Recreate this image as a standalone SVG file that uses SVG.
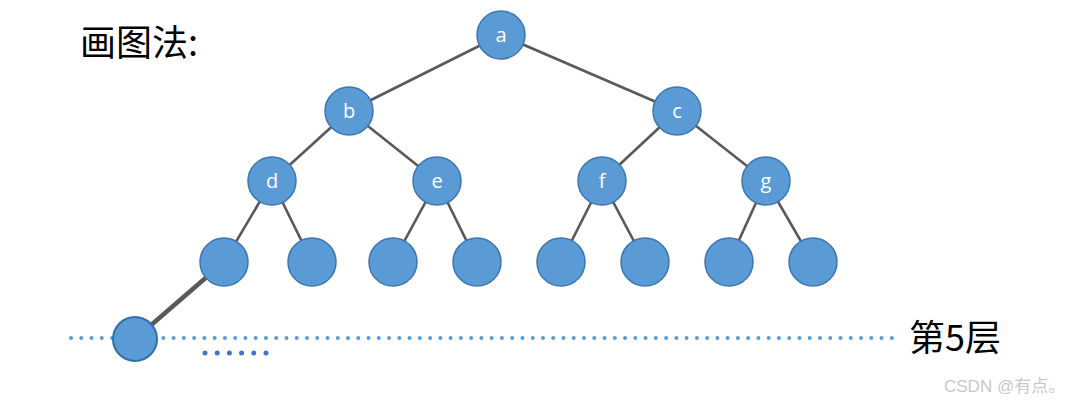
<svg xmlns="http://www.w3.org/2000/svg" width="1087" height="402" viewBox="0 0 1087 402">
<style>
.n{fill:#5b9bd5;stroke:#3f76b0;stroke-width:1.5}
.l{fill:#fff;font-family:"Open Sans","Liberation Sans",sans-serif;font-size:20px;text-anchor:middle}
.e{stroke:#595959;stroke-width:2.6;fill:none}
.t{font-family:"Noto Sans CJK SC","Liberation Sans",sans-serif;fill:#000}
</style>
<rect width="1087" height="402" fill="#fff"/>
<g id="connectors">
<line class="e" x1="501" y1="35" x2="349" y2="111"/>
<line class="e" x1="501" y1="35" x2="677" y2="111"/>
<line class="e" x1="349" y1="111" x2="272" y2="181"/>
<line class="e" x1="349" y1="111" x2="437" y2="181"/>
<line class="e" x1="677" y1="111" x2="602" y2="181"/>
<line class="e" x1="677" y1="111" x2="766" y2="181"/>
<line class="e" x1="272" y1="181" x2="224" y2="262"/>
<line class="e" x1="272" y1="181" x2="312" y2="262"/>
<line class="e" x1="437" y1="181" x2="393" y2="262"/>
<line class="e" x1="437" y1="181" x2="477" y2="262"/>
<line class="e" x1="602" y1="181" x2="561" y2="262"/>
<line class="e" x1="602" y1="181" x2="645" y2="262"/>
<line class="e" x1="766" y1="181" x2="729" y2="262"/>
<line class="e" x1="766" y1="181" x2="813" y2="262"/>
<line class="e" style="stroke-width:4.5" x1="224" y1="262" x2="135" y2="339"/>
</g>
<g id="level5-line">
<line x1="71" y1="338" x2="893" y2="338" stroke="#5b9bd5" stroke-width="4" stroke-linecap="round" stroke-dasharray="0 10.26"/>
<line x1="205" y1="353" x2="268" y2="353" stroke="#4472c4" stroke-width="5" stroke-linecap="round" stroke-dasharray="0 12.2"/>
</g>
<g id="node-a"><circle class="n" cx="501" cy="35" r="24"/><text class="l" x="501" y="42">a</text></g>
<g id="node-b"><circle class="n" cx="349" cy="111" r="24"/><text class="l" x="349" y="118">b</text></g>
<g id="node-c"><circle class="n" cx="677" cy="111" r="24"/><text class="l" x="677" y="118">c</text></g>
<g id="node-d"><circle class="n" cx="272" cy="181" r="24"/><text class="l" x="272" y="188">d</text></g>
<g id="node-e"><circle class="n" cx="437" cy="181" r="24"/><text class="l" x="437" y="188">e</text></g>
<g id="node-f"><circle class="n" cx="602" cy="181" r="24"/><text class="l" x="602" y="188">f</text></g>
<g id="node-g"><circle class="n" cx="766" cy="181" r="24"/><text class="l" x="766" y="188">g</text></g>
<g id="leaf-1"><circle class="n" cx="224" cy="262" r="24"/></g>
<g id="leaf-2"><circle class="n" cx="312" cy="262" r="24"/></g>
<g id="leaf-3"><circle class="n" cx="393" cy="262" r="24"/></g>
<g id="leaf-4"><circle class="n" cx="477" cy="262" r="24"/></g>
<g id="leaf-5"><circle class="n" cx="561" cy="262" r="24"/></g>
<g id="leaf-6"><circle class="n" cx="645" cy="262" r="24"/></g>
<g id="leaf-7"><circle class="n" cx="729" cy="262" r="24"/></g>
<g id="leaf-8"><circle class="n" cx="813" cy="262" r="24"/></g>
<g id="node-level5"><circle class="n" style="stroke:#2e6fae;stroke-width:2" cx="135" cy="339" r="22"/></g>
<text class="t" x="80" y="56" font-size="36">画图法:</text>
<text class="t" x="909" y="351" font-size="36">第5层</text>
<text x="944" y="392" font-family="'Liberation Sans','Noto Sans CJK SC',sans-serif" font-size="17" fill="#c8c8c8">CSDN @有点。</text>
</svg>
